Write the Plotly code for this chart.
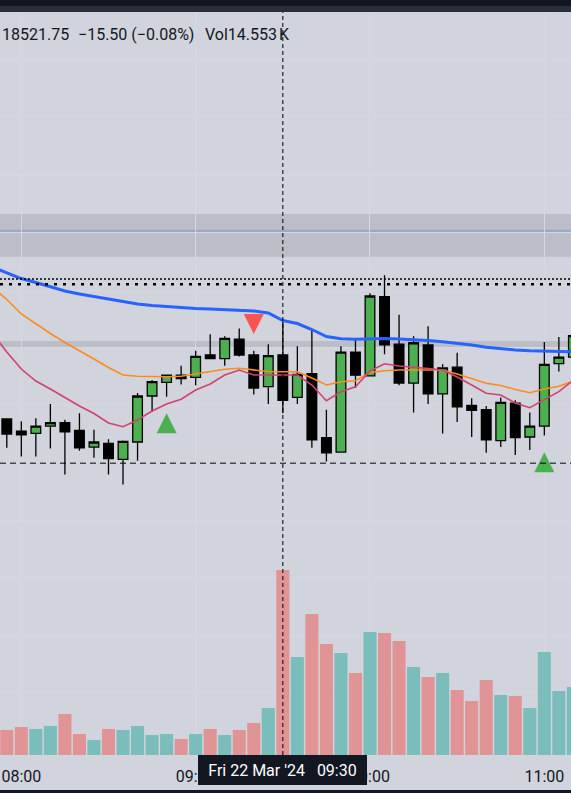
import plotly.graph_objects as go

DAY = "2024-03-22 "
times_hm = ["07:55", "08:00", "08:05", "08:10", "08:15", "08:20", "08:25", "08:30", "08:35", "08:40",
            "08:45", "08:50", "08:55", "09:00", "09:05", "09:10", "09:15", "09:20", "09:25", "09:30",
            "09:35", "09:40", "09:45", "09:50", "09:55", "10:00", "10:05", "10:10", "10:15", "10:20",
            "10:25", "10:30", "10:35", "10:40", "10:45", "10:50", "10:55", "11:00", "11:05", "11:10"]
ma_times_hm = ["07:50"] + times_hm

opens = [18515.25, 18511.0, 18510.25, 18512.75, 18514.0, 18511.25, 18505.5, 18506.75, 18501.25, 18507.25,
         18523.25, 18528.0, 18530.5, 18529.75, 18537.5, 18536.25, 18543.0, 18537.5, 18526.5, 18537.5,
         18522.75, 18531.0, 18508.75, 18503.75, 18538.5, 18530.25, 18557.75, 18541.25, 18527.75, 18541.0,
         18524.0, 18533.25, 18520.0, 18518.5, 18507.75, 18520.75, 18509.0, 18512.75, 18534.5, 18536.75]
highs = [18515.5, 18514.5, 18515.5, 18520.5, 18515.0, 18517.25, 18511.5, 18508.25, 18507.75, 18524.25,
         18528.75, 18530.75, 18533.75, 18539.0, 18544.75, 18544.0, 18546.75, 18539.0, 18541.25, 18549.25,
         18540.5, 18546.25, 18518.5, 18540.5, 18543.25, 18559.0, 18565.25, 18551.5, 18544.0, 18547.5,
         18534.25, 18538.25, 18522.5, 18519.75, 18522.75, 18521.75, 18517.5, 18542.0, 18543.75, 18545.25]
lows = [18505.25, 18502.25, 18502.25, 18505.0, 18496.0, 18504.25, 18501.75, 18496.0, 18492.5, 18500.75,
        18517.75, 18523.0, 18527.25, 18527.0, 18536.0, 18533.75, 18537.0, 18523.75, 18520.5, 18517.25,
        18520.5, 18505.25, 18500.5, 18503.5, 18526.0, 18530.0, 18537.75, 18527.0, 18517.5, 18520.5,
        18510.25, 18514.25, 18509.0, 18503.5, 18505.5, 18502.75, 18504.5, 18509.5, 18531.75, 18536.0]
closes = [18510.0, 18509.75, 18512.75, 18514.0, 18510.75, 18505.25, 18507.25, 18501.5, 18507.5, 18523.25,
          18528.25, 18530.5, 18529.25, 18537.0, 18536.25, 18543.25, 18537.5, 18526.0, 18537.25, 18521.75,
          18530.75, 18508.0, 18503.5, 18538.5, 18530.5, 18558.0, 18541.0, 18527.75, 18541.75, 18524.0,
          18533.0, 18519.5, 18518.25, 18508.0, 18521.0, 18508.75, 18512.75, 18534.25, 18536.75, 18544.25]
volumes = [1970, 2200, 2050, 2280, 3230, 1650, 1180, 2050, 1970, 2280,
           1570, 1650, 1260, 1650, 2050, 1570, 1970, 2520, 3700, 14553,
           7710, 11090, 8730, 8020, 6450, 9680, 9600, 8970, 6920, 6140,
           6450, 5110, 4250, 5900, 4720, 4640, 3700, 8100, 5030, 5350]

ma_slow = [18568.08, 18566.0, 18564.08, 18562.69, 18561.13, 18559.74, 18558.70, 18557.83, 18556.96, 18556.09,
           18555.22, 18554.70, 18554.28, 18553.94, 18553.66, 18553.48, 18553.31, 18553.03, 18552.79, 18552.09,
           18549.49, 18548.44, 18546.36, 18543.93, 18543.16, 18542.95, 18543.06, 18543.23, 18543.06, 18542.88,
           18542.54, 18542.12, 18541.67, 18540.97, 18540.17, 18539.58, 18539.23, 18538.96, 18538.78, 18538.64,
           18538.64]
ma_mid = [18561.13, 18556.79, 18551.75, 18548.27, 18544.97, 18541.84, 18539.06, 18536.11, 18533.15, 18530.54,
          18530.13, 18530.02, 18529.95, 18530.13, 18530.89, 18531.76, 18532.56, 18532.87, 18532.28, 18531.76,
          18531.69, 18531.66, 18529.50, 18527.07, 18528.22, 18528.56, 18531.41, 18532.04, 18532.28, 18532.28,
          18532.28, 18532.28, 18530.89, 18529.33, 18527.69, 18526.89, 18525.50, 18524.39, 18525.68, 18526.65,
          18528.46]
ma_fast = [18545.14, 18538.54, 18532.63, 18528.46, 18525.68, 18522.72, 18519.77, 18517.16, 18513.86, 18512.57,
           18514.90, 18518.03, 18520.46, 18522.10, 18525.33, 18527.42, 18530.54, 18532.28, 18530.54, 18530.54,
           18530.54, 18530.54, 18527.07, 18521.61, 18524.74, 18526.48, 18531.93, 18534.47, 18533.67, 18533.32,
           18532.80, 18532.28, 18529.85, 18527.07, 18524.18, 18523.59, 18520.81, 18519.18, 18522.10, 18524.74,
           18528.81]

buy_times = ["08:50", "11:00"]
buy_prices = [18517.23, 18503.68]
sell_times = ["09:20"]
sell_prices = [18544.79]

zone_low, zone_high, zone_mid = 18571.66, 18586.50, 18580.49
thin_zone_low, thin_zone_high = 18539.93, 18542.36
dotted_fine, dotted_coarse = 18563.91, 18562.07
cross_price = 18499.9
cross_time = "09:30"

tick_hm = ["08:00", "09:00", "10:00", "11:00"]

header_close = "18521.75"
header_change = "\u221215.50 (\u22120.08%)"
header_vol = "Vol14.553"
tooltip_text = "Fri 22 Mar '24\u00a0\u00a0\u00a0" + cross_time

x = [DAY + t for t in times_hm]
x_ma = [DAY + t for t in ma_times_hm]

BG = "#D1D4DC"
GRID = "#D5D8DF"
up_vol = "#7BBDBA"
dn_vol = "#E09496"
vol_colors = [up_vol if c >= o else dn_vol for o, c in zip(opens, closes)]

fig = go.Figure()
fig.add_trace(go.Bar(x=x, y=volumes, marker=dict(color=vol_colors, line=dict(width=0)),
                     yaxis="y2", showlegend=False, hoverinfo="skip"))
fig.add_trace(go.Scatter(x=x_ma, y=ma_slow, mode="lines", line=dict(color="#2962FF", width=3),
                         showlegend=False, hoverinfo="skip"))
fig.add_trace(go.Scatter(x=x_ma, y=ma_mid, mode="lines", line=dict(color="#FF8A1C", width=1.6),
                         showlegend=False, hoverinfo="skip"))
fig.add_trace(go.Scatter(x=x_ma, y=ma_fast, mode="lines", line=dict(color="#D1426F", width=1.6),
                         showlegend=False, hoverinfo="skip"))
fig.add_trace(go.Candlestick(
    x=x, open=opens, high=highs, low=lows, close=closes,
    increasing=dict(line=dict(color="#000000", width=1.3), fillcolor="#4CAF50"),
    decreasing=dict(line=dict(color="#000000", width=1.3), fillcolor="#000000"),
    whiskerwidth=0, showlegend=False, hoverinfo="skip"))
fig.add_trace(go.Scatter(x=[DAY + t for t in buy_times], y=buy_prices, mode="markers",
                         marker=dict(symbol="arrow-up", size=20, color="#4CAF50", line=dict(width=0)),
                         showlegend=False, hoverinfo="skip"))
fig.add_trace(go.Scatter(x=[DAY + t for t in sell_times], y=sell_prices, mode="markers",
                         marker=dict(symbol="arrow-down", size=20, color="#FF5252", line=dict(width=0)),
                         showlegend=False, hoverinfo="skip"))

W, H = 571, 793
T, B = 12, 38
plot_h = H - T - B

shapes = [
    dict(type="rect", xref="paper", x0=0, x1=1, yref="y", y0=zone_low, y1=zone_high,
         fillcolor="#BBBEC6", line=dict(width=0), layer="below"),
    dict(type="line", xref="paper", x0=0, x1=1, yref="y", y0=zone_mid, y1=zone_mid,
         line=dict(color="#9DA8C8", width=3), layer="below"),
    dict(type="rect", xref="paper", x0=0, x1=1, yref="y", y0=thin_zone_low, y1=thin_zone_high,
         fillcolor="#BBBEC6", line=dict(width=0), layer="below"),
    dict(type="line", xref="paper", x0=0, x1=1, yref="y", y0=dotted_fine, y1=dotted_fine,
         line=dict(color="#000000", width=1.3, dash="2px,2px")),
    dict(type="line", xref="paper", x0=0, x1=1, yref="y", y0=dotted_coarse, y1=dotted_coarse,
         line=dict(color="#000000", width=2.6, dash="3px,6px")),
    dict(type="line", xref="paper", x0=0, x1=1, yref="y", y0=cross_price, y1=cross_price,
         line=dict(color="#000000", width=1, dash="6px,4px")),
    dict(type="line", xref="x", x0=DAY + cross_time, x1=DAY + cross_time, yref="paper", y0=0, y1=1,
         line=dict(color="#000000", width=1, dash="4px,3px")),
    dict(type="rect", xref="paper", x0=-0.01, x1=1.01, yref="paper", y0=1, y1=1 + 6 / plot_h,
         fillcolor="#2A2E39", line=dict(width=0)),
    dict(type="rect", xref="paper", x0=-0.01, x1=1.01, yref="paper", y0=1 + 6 / plot_h, y1=1 + 14 / plot_h,
         fillcolor="#131722", line=dict(width=0)),
    dict(type="rect", xref="paper", x0=-0.01, x1=1.01, yref="paper", y0=-(35 / plot_h), y1=-(40 / plot_h),
         fillcolor="#131722", line=dict(width=0)),
]

hdr_y = 1 - (34 - T) / plot_h
font = "Roboto, Arial, sans-serif"
hdr_font = dict(family=font, size=16, color="#131722")
annotations = [
    dict(xref="paper", yref="paper", x=0 / W, y=hdr_y, xanchor="left", yanchor="middle",
         text=header_close, showarrow=False, font=hdr_font),
    dict(xref="paper", yref="paper", x=76 / W, y=hdr_y, xanchor="left", yanchor="middle",
         text=header_change, showarrow=False, font=hdr_font),
    dict(xref="paper", yref="paper", x=203 / W, y=hdr_y, xanchor="left", yanchor="middle",
         text=header_vol, showarrow=False, font=hdr_font),
    dict(xref="paper", yref="paper", x=277 / W, y=hdr_y, xanchor="left", yanchor="middle",
         text="K", showarrow=False, font=hdr_font),
    dict(xref="x", yref="paper", x=DAY + cross_time, y=0, xanchor="center", yanchor="top",
         text=tooltip_text, showarrow=False, bgcolor="#131722", borderwidth=0, borderpad=0,
         width=169, height=30, font=dict(family=font, size=16, color="#FFFFFF")),
]

fig.update_layout(
    width=W, height=H,
    margin=dict(l=0, r=0, t=T, b=B, pad=0),
    paper_bgcolor=BG, plot_bgcolor=BG,
    showlegend=False, hovermode=False,
    bargap=0.1, boxgap=0.3, boxgroupgap=0.05,
    xaxis=dict(type="date", range=[DAY + "07:52:39.6", DAY + "11:09:10.8"],
               rangeslider=dict(visible=False),
               tickmode="array", tickvals=[DAY + t for t in tick_hm], ticktext=tick_hm,
               showgrid=True, gridcolor=GRID, gridwidth=1, zeroline=False,
               showline=False, ticks="", ticklabelstandoff=10,
               tickfont=dict(family=font, size=16, color="#131722"), fixedrange=True),
    yaxis=dict(range=[18398.46, 18656.72], showgrid=True, gridcolor=GRID, gridwidth=1,
               tick0=0, dtick=20, showticklabels=False, zeroline=False, ticks="", fixedrange=True),
    yaxis2=dict(range=[0, 58450], overlaying="y", visible=False, fixedrange=True),
    shapes=shapes,
    annotations=annotations,
)

fig.write_html("out.html", config={"displayModeBar": False},
               post_script="document.body.style.margin='0';document.body.style.overflow='hidden';")
